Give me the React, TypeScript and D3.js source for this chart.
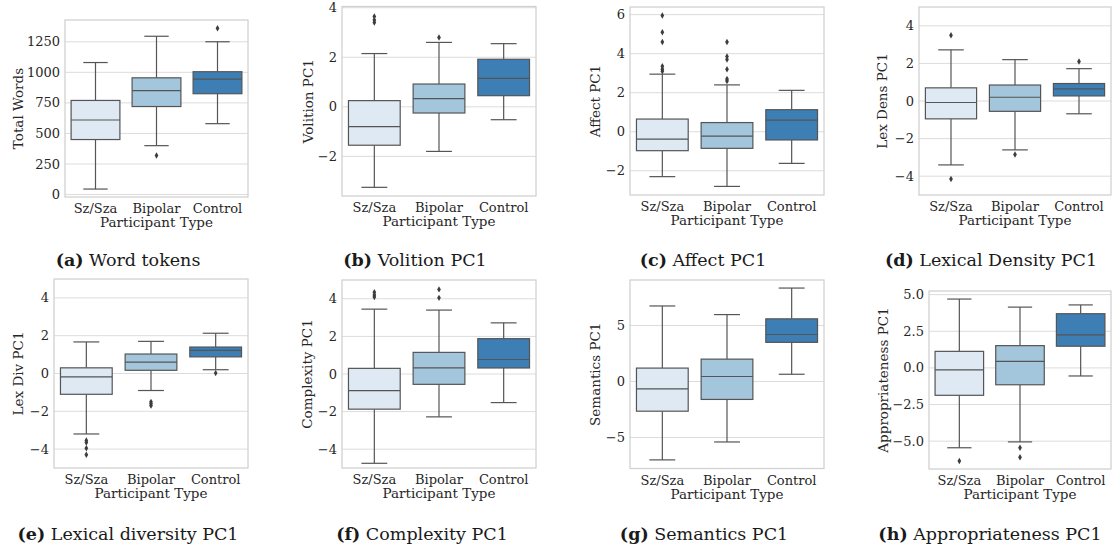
import React from "react";
import * as d3 from "d3";

const groups = ["Sz/Sza", "Bipolar", "Control"];
const boxColors = ["#dee9f3", "#a3c6dc", "#3d7eb4"];

// each row: [whisker low, Q1, median, Q3, whisker high]
const wordStats = [
  [45, 450, 610, 770, 1080],
  [400, 720, 850, 955, 1295],
  [580, 825, 945, 1005, 1250],
];
const wordOutliers = [[], [320], [1360]];

const volitionStats = [
  [-3.25, -1.55, -0.8, 0.25, 2.15],
  [-1.8, -0.25, 0.33, 0.92, 2.6],
  [-0.52, 0.45, 1.15, 1.92, 2.55],
];
const volitionOutliers = [[3.4, 3.5, 3.65], [2.8], []];

const affectStats = [
  [-2.3, -0.97, -0.38, 0.65, 2.95],
  [-2.8, -0.85, -0.22, 0.47, 2.4],
  [-1.62, -0.42, 0.6, 1.13, 2.12],
];
const affectOutliers = [
  [3.1, 3.2, 3.35, 4.6, 5.1, 5.95],
  [2.6, 2.7, 3.2, 3.7, 3.85, 4.6],
  [],
];

const lexDensStats = [
  [-3.4, -0.95, -0.08, 0.7, 2.72],
  [-2.6, -0.55, 0.2, 0.85, 2.2],
  [-0.68, 0.27, 0.65, 0.93, 1.72],
];
const lexDensOutliers = [[3.5, -4.15], [-2.85], [2.1]];

const lexDivStats = [
  [-3.2, -1.1, -0.18, 0.3, 1.67],
  [-0.9, 0.17, 0.6, 1.03, 1.7],
  [0.2, 0.88, 1.22, 1.4, 2.13],
];
const lexDivOutliers = [[-3.55, -3.65, -3.95, -4.3], [-1.5, -1.6, -1.7], [0.02]];

const complexityStats = [
  [-4.75, -1.87, -0.88, 0.3, 3.45],
  [-2.28, -0.55, 0.33, 1.15, 3.4],
  [-1.52, 0.32, 0.77, 1.88, 2.72],
];
const complexityOutliers = [[4.1, 4.2, 4.35], [4.05, 4.5], []];

const semanticsStats = [
  [-7.0, -2.65, -0.65, 1.2, 6.75],
  [-5.4, -1.6, 0.45, 2.0, 5.98],
  [0.65, 3.5, 4.2, 5.6, 8.35],
];
const semanticsOutliers = [[], [], []];

const approStats = [
  [-5.45, -1.87, -0.13, 1.13, 4.7],
  [-5.05, -1.15, 0.45, 1.52, 4.15],
  [-0.55, 1.48, 2.25, 3.7, 4.3],
];
const approOutliers = [[-6.35], [-5.45, -6.1], []];

const wordTicks = [0, 250, 500, 750, 1000, 1250];
const pcTicks = [-4, -2, 0, 2, 4];
const volitionTicks = [-2, 0, 2, 4];
const affectTicks = [-2, 0, 2, 4, 6];
const semanticsTicks = [-5, 0, 5];
const approTicks = [-5, -2.5, 0, 2.5, 5];

const minus = (s: string) => s.replace("-", "\u2212");
const fmtInt = (v: number) => minus(d3.format("d")(v));
const fmt1 = (v: number) => minus(d3.format(".1f")(v));

const panels = [
  { id: "a", cap: "Word tokens", ylab: "Total Words", stats: wordStats, out: wordOutliers, ticks: wordTicks, fmt: fmtInt, dom: [-20, 1428], x0: 65, x1: 248, y0: 20, y1: 197, labX: 18, capX: 128, capY: 266 },
  { id: "b", cap: "Volition PC1", ylab: "Volition PC1", stats: volitionStats, out: volitionOutliers, ticks: volitionTicks, fmt: fmtInt, dom: [-3.6, 4.05], x0: 342, x1: 536, y0: 6.5, y1: 196, labX: 308, capX: 415, capY: 266 },
  { id: "c", cap: "Affect PC1", ylab: "Affect PC1", stats: affectStats, out: affectOutliers, ticks: affectTicks, fmt: fmtInt, dom: [-3.24, 6.39], x0: 630, x1: 824, y0: 7, y1: 195, labX: 595, capX: 703, capY: 266 },
  { id: "d", cap: "Lexical Density PC1", ylab: "Lex Dens PC1", stats: lexDensStats, out: lexDensOutliers, ticks: pcTicks, fmt: fmtInt, dom: [-5, 5], x0: 919, x1: 1111, y0: 7, y1: 195, labX: 882, capX: 991, capY: 266 },
  { id: "e", cap: "Lexical diversity PC1", ylab: "Lex Div PC1", stats: lexDivStats, out: lexDivOutliers, ticks: pcTicks, fmt: fmtInt, dom: [-5, 5], x0: 54, x1: 248, y0: 279, y1: 468, labX: 18, capX: 128, capY: 540 },
  { id: "f", cap: "Complexity PC1", ylab: "Complexity PC1", stats: complexityStats, out: complexityOutliers, ticks: pcTicks, fmt: fmtInt, dom: [-5, 5], x0: 342, x1: 536, y0: 280, y1: 468, labX: 307, capX: 422, capY: 540 },
  { id: "g", cap: "Semantics PC1", ylab: "Semantics PC1", stats: semanticsStats, out: semanticsOutliers, ticks: semanticsTicks, fmt: fmtInt, dom: [-7.77, 9.07], x0: 630, x1: 824, y0: 280, y1: 468.5, labX: 595, capX: 704, capY: 540 },
  { id: "h", cap: "Appropriateness PC1", ylab: "Appropriateness PC1", stats: approStats, out: approOutliers, ticks: approTicks, fmt: fmt1, dom: [-6.9, 5.25], x0: 929, x1: 1111, y0: 291, y1: 469, labX: 883, capX: 990, capY: 540 },
];

const FONT = "DejaVu Serif";
const EDGE = "#555555";

function Panel({ p }: { p: any }) {
  const x = d3.scaleBand().domain(groups).range([p.x0, p.x1]).paddingInner(0).paddingOuter(0);
  const y = d3.scaleLinear().domain(p.dom).range([p.y1, p.y0]);
  const bw = x.bandwidth() * 0.8;
  const capW = bw / 2;
  return (
    <g>
      {/* grid */}
      {p.ticks.map((t: number) => (
        <line key={"g" + t} x1={p.x0} x2={p.x1} y1={y(t)} y2={y(t)} stroke="#dcdcdc" strokeWidth={1} />
      ))}
      {p.ticks.map((t: number) => (
        <text key={"t" + t} x={p.x0 - 5} y={y(t)} dy="0.35em" textAnchor="end" fontSize={13} fill="#262626" fontFamily={FONT}>
          {p.fmt(t)}
        </text>
      ))}
      {p.stats.map((s: number[], i: number) => {
        const cx = x(groups[i])! + x.bandwidth() / 2;
        return (
          <g key={i}>
            <line x1={cx} x2={cx} y1={y(s[0])} y2={y(s[1])} stroke={EDGE} strokeWidth={1.2} />
            <line x1={cx} x2={cx} y1={y(s[3])} y2={y(s[4])} stroke={EDGE} strokeWidth={1.2} />
            <line x1={cx - capW / 2} x2={cx + capW / 2} y1={y(s[0])} y2={y(s[0])} stroke={EDGE} strokeWidth={1.2} />
            <line x1={cx - capW / 2} x2={cx + capW / 2} y1={y(s[4])} y2={y(s[4])} stroke={EDGE} strokeWidth={1.2} />
            <rect x={cx - bw / 2} y={y(s[3])} width={bw} height={y(s[1]) - y(s[3])} fill={boxColors[i]} stroke={EDGE} strokeWidth={1.2} />
            <line x1={cx - bw / 2} x2={cx + bw / 2} y1={y(s[2])} y2={y(s[2])} stroke={EDGE} strokeWidth={1.2} />
            {p.out[i].map((v: number, j: number) => (
              <path key={j} d={d3.symbol(d3.symbolDiamond, 12)()!} transform={`translate(${cx},${y(v)})`} fill="#3d3d3d" />
            ))}
          </g>
        );
      })}
      <rect x={p.x0} y={p.y0} width={p.x1 - p.x0} height={p.y1 - p.y0} fill="none" stroke="#d0d0d0" strokeWidth={1.25} />
      {groups.map((gname) => (
        <text key={gname} x={x(gname)! + x.bandwidth() / 2} y={p.y1 + 16} textAnchor="middle" fontSize={13} fill="#262626" fontFamily={FONT}>
          {gname}
        </text>
      ))}
      <text x={(p.x0 + p.x1) / 2} y={p.y1 + 30} textAnchor="middle" fontSize={13.5} fill="#262626" fontFamily={FONT}>
        Participant Type
      </text>
      <text transform={`translate(${p.labX},${(p.y0 + p.y1) / 2}) rotate(-90)`} dy="0.35em" textAnchor="middle" fontSize={13.5} fill="#262626" fontFamily={FONT}>
        {p.ylab}
      </text>
      <text x={p.capX} y={p.capY} textAnchor="middle" fontSize={17.5} fill="#1a1a1a" fontFamily={FONT}>
        <tspan fontWeight="bold">({p.id})</tspan>
        <tspan> {p.cap}</tspan>
      </text>
    </g>
  );
}

export default function App() {
  return (
    <svg width={1117} height={552} style={{ position: "absolute", left: 0, top: 0, background: "#fff" }}>
      {panels.map((p) => (
        <Panel key={p.id} p={p} />
      ))}
    </svg>
  );
}
